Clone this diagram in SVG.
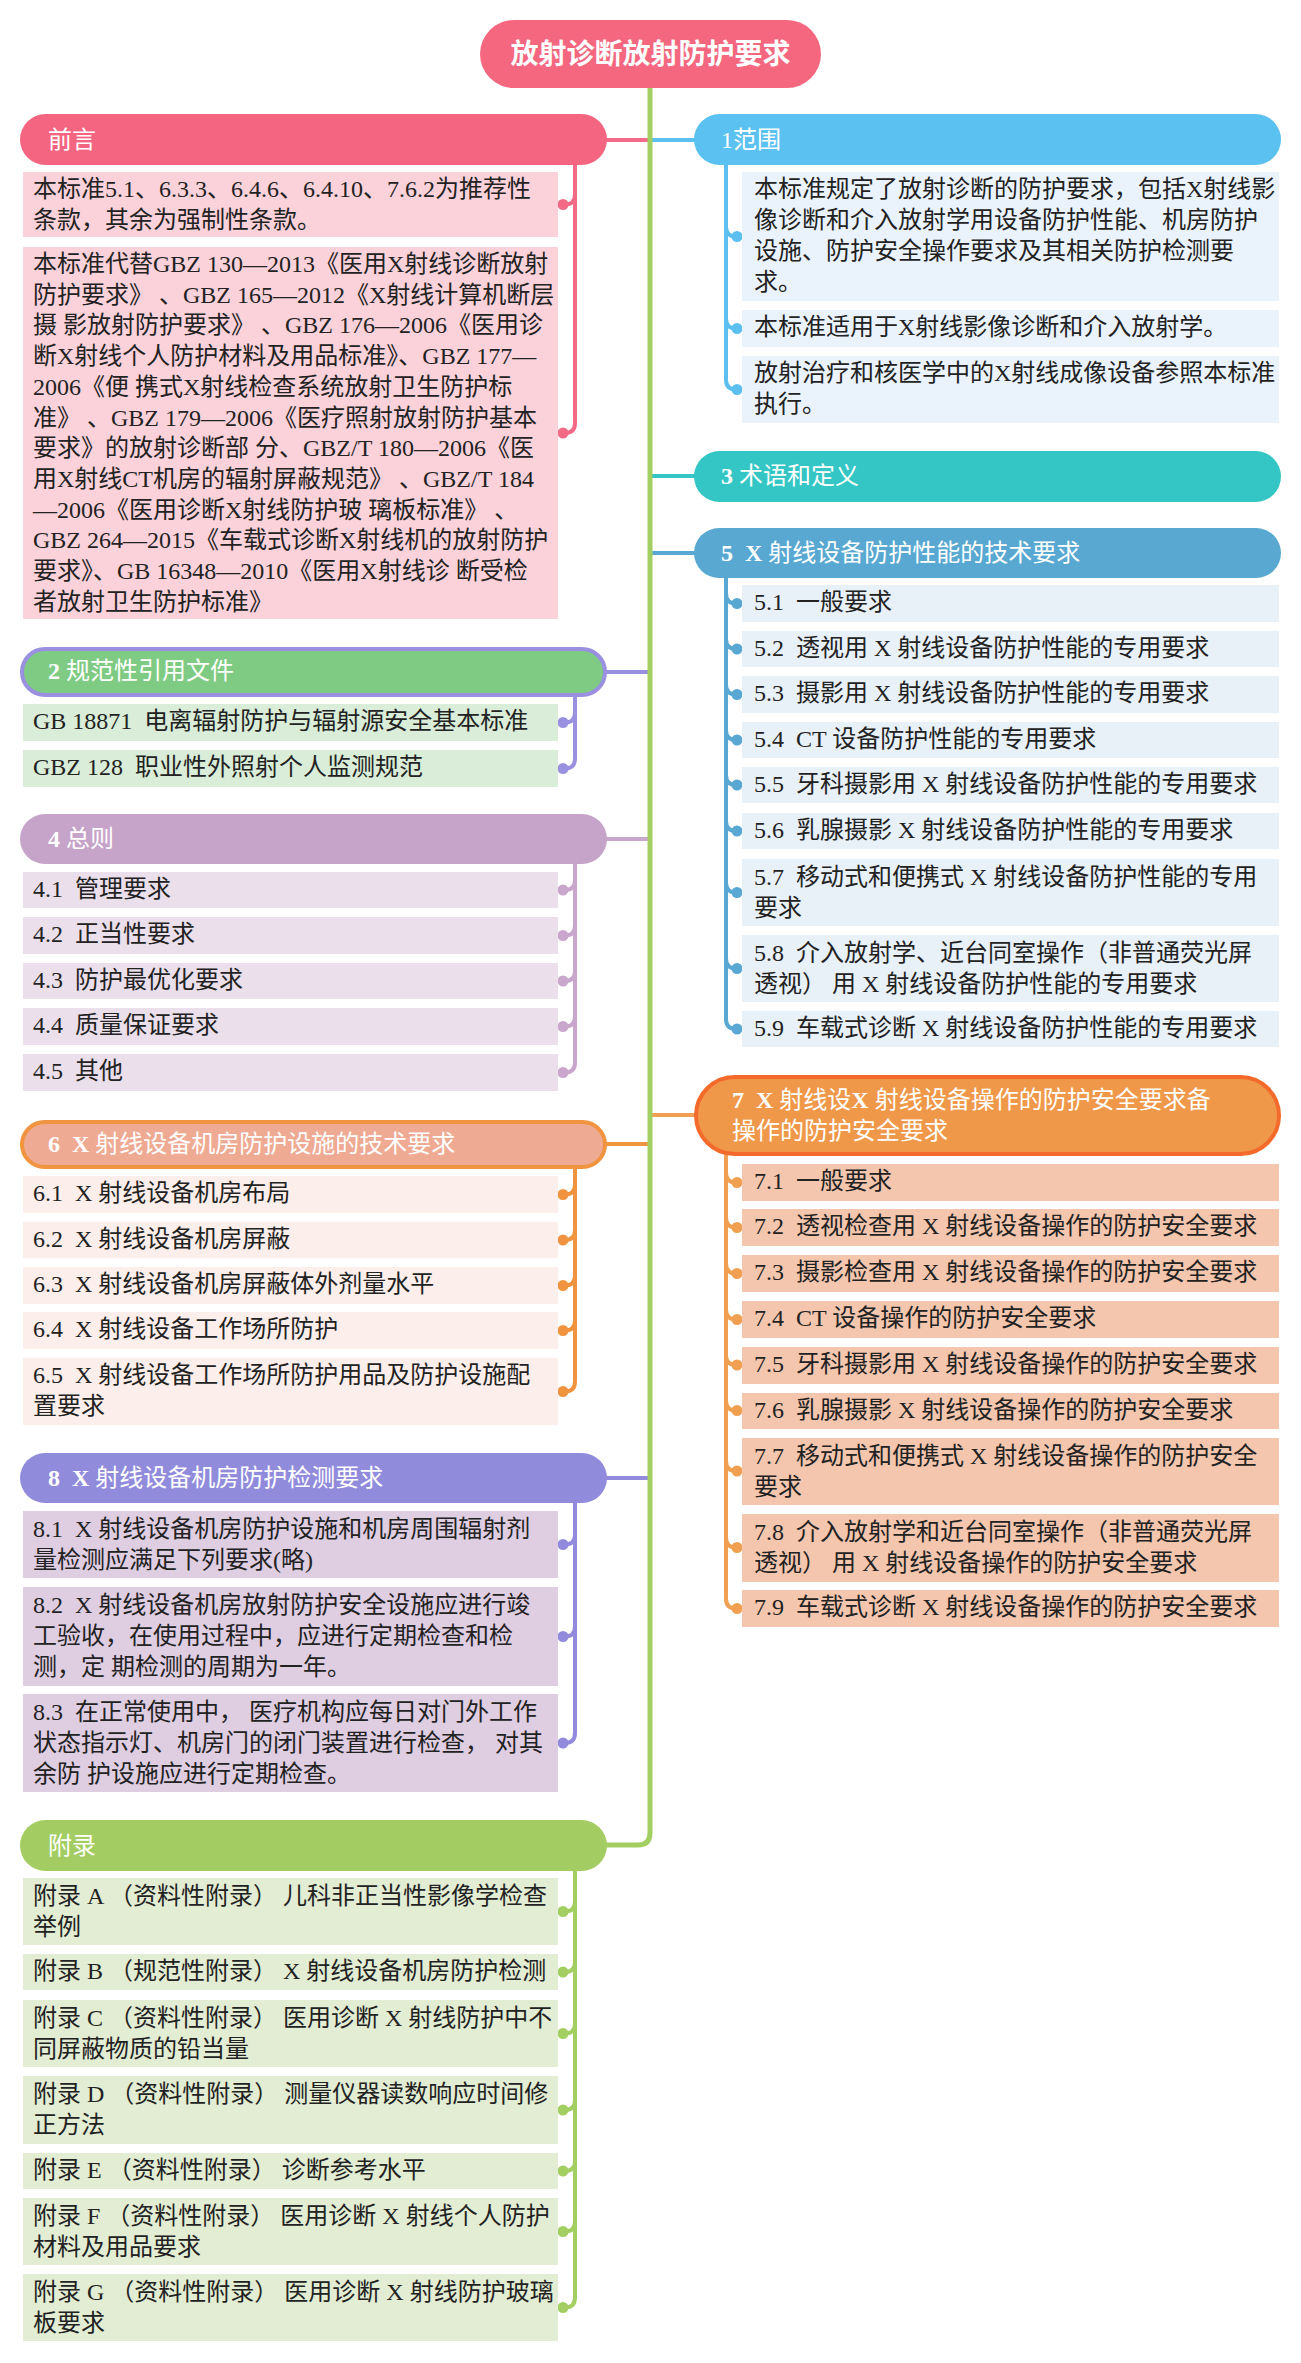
<svg xmlns="http://www.w3.org/2000/svg" width="1301" height="2363" viewBox="0 0 1301 2363">
<style>
.t{font-family:"Liberation Serif","Noto Sans CJK SC",serif;font-size:24px;fill:#222}
.h{font-family:"Liberation Serif","Noto Sans CJK SC",serif;font-size:24px;fill:#fff}
.b{font-weight:bold}
.c{fill:none;stroke-width:4;stroke-linecap:round}
.pk{fill:#FCD2DA}.lb{fill:#EAF3FC}.gn{fill:#D9EDD8}.lv{fill:#EADFEA}.bl{fill:#E8F0F8}.or{fill:#FCEEEA}.o2{fill:#F5C6AE}.pu{fill:#DFCDE2}.lg{fill:#E2EDD3}
</style>
<rect width="1301" height="2363" fill="#fff"/>
<g id="connectors">
<path class="c" stroke="#F26A86" d="M607 140H650M575 165V194.5Q575 204.5 565 204.5M575 165V423Q575 433 565 433"/>
<path class="c" stroke="#5BC0F0" d="M650 140H694M726 165V226.5Q726 236.5 736 236.5M726 165V318.5Q726 328.5 736 328.5M726 165V379.5Q726 389.5 736 389.5"/>
<path class="c" stroke="#9A90E0" d="M607 672H650M575 696V712.5Q575 722.5 565 722.5M575 696V758.5Q575 768.5 565 768.5"/>
<path class="c" stroke="#34C6C4" d="M650 476H694"/>
<path class="c" stroke="#C9A6CB" d="M607 839H650M575 864V880Q575 890 565 890M575 864V925.5Q575 935.5 565 935.5M575 864V971Q575 981 565 981M575 864V1016.5Q575 1026.5 565 1026.5M575 864V1062.5Q575 1072.5 565 1072.5"/>
<path class="c" stroke="#58A8D3" d="M650 553H694M726 578V593.5Q726 603.5 736 603.5M726 578V639Q726 649 736 649M726 578V684.5Q726 694.5 736 694.5M726 578V730Q726 740 736 740M726 578V775Q726 785 736 785M726 578V821Q726 831 736 831M726 578V882.5Q726 892.5 736 892.5M726 578V958.5Q726 968.5 736 968.5M726 578V1019Q726 1029 736 1029"/>
<path class="c" stroke="#F0943F" d="M607 1144H650M575 1168V1184.5Q575 1194.5 565 1194.5M575 1168V1230Q575 1240 565 1240M575 1168V1275.5Q575 1285.5 565 1285.5M575 1168V1320.5Q575 1330.5 565 1330.5M575 1168V1381.5Q575 1391.5 565 1391.5"/>
<path class="c" stroke="#F0A050" d="M650 1115H694M726 1156V1172.5Q726 1182.5 736 1182.5M726 1156V1217.5Q726 1227.5 736 1227.5M726 1156V1263.5Q726 1273.5 736 1273.5M726 1156V1309.5Q726 1319.5 736 1319.5M726 1156V1355Q726 1365 736 1365M726 1156V1400.5Q726 1410.5 736 1410.5M726 1156V1461Q726 1471 736 1471M726 1156V1537.5Q726 1547.5 736 1547.5M726 1156V1598.5Q726 1608.5 736 1608.5"/>
<path class="c" stroke="#928BDD" d="M607 1478H650M575 1503V1534.5Q575 1544.5 565 1544.5M575 1503V1626.5Q575 1636.5 565 1636.5M575 1503V1733Q575 1743 565 1743"/>
<path class="c" stroke="#A3CE62" d="M575 1871V1901.5Q575 1911.5 565 1911.5M575 1871V1962Q575 1972 565 1972M575 1871V2023.5Q575 2033.5 565 2033.5M575 1871V2100Q575 2110 565 2110M575 1871V2161Q575 2171 565 2171M575 1871V2221.5Q575 2231.5 565 2231.5M575 1871V2297.5Q575 2307.5 565 2307.5"/>
<path fill="none" stroke="#A3CE62" stroke-width="5" stroke-linecap="round" d="M650 88V1833Q650 1845 638 1845H607"/>
<g fill="#F26A86"><circle cx="563" cy="204.5" r="5.5"/><circle cx="563" cy="433" r="5.5"/></g>
<g fill="#5BC0F0"><circle cx="737" cy="236.5" r="5.5"/><circle cx="737" cy="328.5" r="5.5"/><circle cx="737" cy="389.5" r="5.5"/></g>
<g fill="#9A90E0"><circle cx="563" cy="722.5" r="5.5"/><circle cx="563" cy="768.5" r="5.5"/></g>
<g fill="#C9A6CB"><circle cx="563" cy="890" r="5.5"/><circle cx="563" cy="935.5" r="5.5"/><circle cx="563" cy="981" r="5.5"/><circle cx="563" cy="1026.5" r="5.5"/><circle cx="563" cy="1072.5" r="5.5"/></g>
<g fill="#58A8D3"><circle cx="737" cy="603.5" r="5.5"/><circle cx="737" cy="649" r="5.5"/><circle cx="737" cy="694.5" r="5.5"/><circle cx="737" cy="740" r="5.5"/><circle cx="737" cy="785" r="5.5"/><circle cx="737" cy="831" r="5.5"/><circle cx="737" cy="892.5" r="5.5"/><circle cx="737" cy="968.5" r="5.5"/><circle cx="737" cy="1029" r="5.5"/></g>
<g fill="#F0943F"><circle cx="563" cy="1194.5" r="5.5"/><circle cx="563" cy="1240" r="5.5"/><circle cx="563" cy="1285.5" r="5.5"/><circle cx="563" cy="1330.5" r="5.5"/><circle cx="563" cy="1391.5" r="5.5"/></g>
<g fill="#F0A050"><circle cx="737" cy="1182.5" r="5.5"/><circle cx="737" cy="1227.5" r="5.5"/><circle cx="737" cy="1273.5" r="5.5"/><circle cx="737" cy="1319.5" r="5.5"/><circle cx="737" cy="1365" r="5.5"/><circle cx="737" cy="1410.5" r="5.5"/><circle cx="737" cy="1471" r="5.5"/><circle cx="737" cy="1547.5" r="5.5"/><circle cx="737" cy="1608.5" r="5.5"/></g>
<g fill="#928BDD"><circle cx="563" cy="1544.5" r="5.5"/><circle cx="563" cy="1636.5" r="5.5"/><circle cx="563" cy="1743" r="5.5"/></g>
<g fill="#A3CE62"><circle cx="563" cy="1911.5" r="5.5"/><circle cx="563" cy="1972" r="5.5"/><circle cx="563" cy="2033.5" r="5.5"/><circle cx="563" cy="2110" r="5.5"/><circle cx="563" cy="2171" r="5.5"/><circle cx="563" cy="2231.5" r="5.5"/><circle cx="563" cy="2307.5" r="5.5"/></g>
</g>
<g id="root">
<rect x="480" y="20" width="341" height="68" rx="34" fill="#F4677F"/>
<text x="650.5" y="64" text-anchor="middle" font-family="'Noto Sans CJK SC',sans-serif" font-weight="bold" font-size="28" fill="#fff">放射诊断放射防护要求</text>
</g>
<g id="n-qianyan">
<rect x="20" y="114" width="587" height="51" rx="25.5" fill="#F46582"/>
<text class="h" x="48" y="148">前言</text>
</g>
<g id="n-qianyan-1">
<rect class="pk" x="23" y="172" width="535" height="65"/>
<text class="t" x="33" y="197">本标准5.1、6.3.3、6.4.6、6.4.10、7.6.2为推荐性</text>
<text class="t" x="33" y="228">条款，其余为强制性条款。</text>
</g>
<g id="n-qianyan-2">
<rect class="pk" x="23" y="247" width="535" height="372"/>
<text class="t" x="33" y="272">本标准代替GBZ 130—2013《医用X射线诊断放射</text>
<text class="t" x="33" y="302.7">防护要求》 、GBZ 165—2012《X射线计算机断层</text>
<text class="t" x="33" y="333.4">摄 影放射防护要求》 、GBZ 176—2006《医用诊</text>
<text class="t" x="33" y="364.1">断X射线个人防护材料及用品标准》、GBZ 177—</text>
<text class="t" x="33" y="394.8">2006《便 携式X射线检查系统放射卫生防护标</text>
<text class="t" x="33" y="425.5">准》 、GBZ 179—2006《医疗照射放射防护基本</text>
<text class="t" x="33" y="456.2">要求》的放射诊断部 分、GBZ/T 180—2006《医</text>
<text class="t" x="33" y="486.9">用X射线CT机房的辐射屏蔽规范》 、GBZ/T 184</text>
<text class="t" x="33" y="517.6">—2006《医用诊断X射线防护玻 璃板标准》 、</text>
<text class="t" x="33" y="548.3">GBZ 264—2015《车载式诊断X射线机的放射防护</text>
<text class="t" x="33" y="579">要求》、GB 16348—2010《医用X射线诊 断受检</text>
<text class="t" x="33" y="609.7">者放射卫生防护标准》</text>
</g>
<g id="n-2">
<rect x="22" y="649" width="583" height="46" rx="23" fill="#7FCB84" stroke="#9A90E0" stroke-width="4"/>
<text class="h" x="48" y="679"><tspan class="b">2</tspan> 规范性引用文件</text>
</g>
<g id="n-2-1">
<rect class="gn" x="23" y="704" width="535" height="37"/>
<text class="t" x="33" y="729">GB 18871&#160;&#160;电离辐射防护与辐射源安全基本标准</text>
</g>
<g id="n-2-2">
<rect class="gn" x="23" y="750" width="535" height="37"/>
<text class="t" x="33" y="775">GBZ 128&#160;&#160;职业性外照射个人监测规范</text>
</g>
<g id="n-4">
<rect x="20" y="814" width="587" height="50" rx="25" fill="#C6A3C8"/>
<text class="h" x="48" y="847"><tspan class="b">4</tspan> 总则</text>
</g>
<g id="n-4-1"><rect class="lv" x="23" y="872" width="535" height="36"/><text class="t" x="33" y="897">4.1&#160;&#160;管理要求</text></g>
<g id="n-4-2"><rect class="lv" x="23" y="917" width="535" height="37"/><text class="t" x="33" y="942">4.2&#160;&#160;正当性要求</text></g>
<g id="n-4-3"><rect class="lv" x="23" y="963" width="535" height="36"/><text class="t" x="33" y="988">4.3&#160;&#160;防护最优化要求</text></g>
<g id="n-4-4"><rect class="lv" x="23" y="1008" width="535" height="37"/><text class="t" x="33" y="1033">4.4&#160;&#160;质量保证要求</text></g>
<g id="n-4-5"><rect class="lv" x="23" y="1054" width="535" height="37"/><text class="t" x="33" y="1079">4.5&#160;&#160;其他</text></g>
<g id="n-6">
<rect x="22" y="1122" width="583" height="45" rx="22.5" fill="#EFAA93" stroke="#F0943F" stroke-width="4"/>
<text class="h" x="48" y="1152"><tspan class="b">6&#160;&#160;X</tspan> 射线设备机房防护设施的技术要求</text>
</g>
<g id="n-6-1"><rect class="or" x="23" y="1176" width="535" height="37"/><text class="t" x="33" y="1201">6.1&#160;&#160;X 射线设备机房布局</text></g>
<g id="n-6-2"><rect class="or" x="23" y="1222" width="535" height="36"/><text class="t" x="33" y="1247">6.2&#160;&#160;X 射线设备机房屏蔽</text></g>
<g id="n-6-3"><rect class="or" x="23" y="1267" width="535" height="37"/><text class="t" x="33" y="1292">6.3&#160;&#160;X 射线设备机房屏蔽体外剂量水平</text></g>
<g id="n-6-4"><rect class="or" x="23" y="1312" width="535" height="37"/><text class="t" x="33" y="1337">6.4&#160;&#160;X 射线设备工作场所防护</text></g>
<g id="n-6-5"><rect class="or" x="23" y="1358" width="535" height="67"/><text class="t" x="33" y="1383">6.5&#160;&#160;X 射线设备工作场所防护用品及防护设施配</text><text class="t" x="33" y="1414">置要求</text></g>
<g id="n-8">
<rect x="20" y="1453" width="587" height="50" rx="25" fill="#918BDC"/>
<text class="h" x="48" y="1486"><tspan class="b">8&#160;&#160;X</tspan> 射线设备机房防护检测要求</text>
</g>
<g id="n-8-1"><rect class="pu" x="23" y="1511" width="535" height="67"/><text class="t" x="33" y="1537">8.1&#160;&#160;X 射线设备机房防护设施和机房周围辐射剂</text><text class="t" x="33" y="1568">量检测应满足下列要求(略)</text></g>
<g id="n-8-2"><rect class="pu" x="23" y="1587" width="535" height="99"/><text class="t" x="33" y="1613">8.2&#160;&#160;X 射线设备机房放射防护安全设施应进行竣</text><text class="t" x="33" y="1644">工验收，在使用过程中，应进行定期检查和检</text><text class="t" x="33" y="1675">测，定 期检测的周期为一年。</text></g>
<g id="n-8-3"><rect class="pu" x="23" y="1694" width="535" height="98"/><text class="t" x="33" y="1720">8.3&#160;&#160;在正常使用中， 医疗机构应每日对门外工作</text><text class="t" x="33" y="1751">状态指示灯、机房门的闭门装置进行检查， 对其</text><text class="t" x="33" y="1782">余防 护设施应进行定期检查。</text></g>
<g id="n-fulu">
<rect x="20" y="1820" width="587" height="51" rx="25.5" fill="#A3CD62"/>
<text class="h" x="48" y="1854">附录</text>
</g>
<g id="n-fulu-a"><rect class="lg" x="23" y="1878" width="535" height="67"/><text class="t" x="33" y="1904">附录 A （资料性附录） 儿科非正当性影像学检查</text><text class="t" x="33" y="1935">举例</text></g>
<g id="n-fulu-b"><rect class="lg" x="23" y="1954" width="535" height="36"/><text class="t" x="33" y="1979">附录 B （规范性附录） X 射线设备机房防护检测</text></g>
<g id="n-fulu-c"><rect class="lg" x="23" y="2000" width="535" height="67"/><text class="t" x="33" y="2026">附录 C （资料性附录） 医用诊断 X 射线防护中不</text><text class="t" x="33" y="2057">同屏蔽物质的铅当量</text></g>
<g id="n-fulu-d"><rect class="lg" x="23" y="2076" width="535" height="68"/><text class="t" x="33" y="2102">附录 D （资料性附录） 测量仪器读数响应时间修</text><text class="t" x="33" y="2133">正方法</text></g>
<g id="n-fulu-e"><rect class="lg" x="23" y="2153" width="535" height="36"/><text class="t" x="33" y="2178">附录 E （资料性附录） 诊断参考水平</text></g>
<g id="n-fulu-f"><rect class="lg" x="23" y="2198" width="535" height="67"/><text class="t" x="33" y="2224">附录 F （资料性附录） 医用诊断 X 射线个人防护</text><text class="t" x="33" y="2255">材料及用品要求</text></g>
<g id="n-fulu-g"><rect class="lg" x="23" y="2274" width="535" height="67"/><text class="t" x="33" y="2300">附录 G （资料性附录） 医用诊断 X 射线防护玻璃</text><text class="t" x="33" y="2331">板要求</text></g>
<g id="n-1">
<rect x="694" y="114" width="587" height="51" rx="25.5" fill="#5BC1F1"/>
<text class="h" x="721" y="148">1范围</text>
</g>
<g id="n-1-1"><rect class="lb" x="742" y="172" width="537" height="129"/><text class="t" x="754" y="197">本标准规定了放射诊断的防护要求，包括X射线影</text><text class="t" x="754" y="228">像诊断和介入放射学用设备防护性能、机房防护</text><text class="t" x="754" y="259">设施、防护安全操作要求及其相关防护检测要</text><text class="t" x="754" y="290">求。</text></g>
<g id="n-1-2"><rect class="lb" x="742" y="310" width="537" height="37"/><text class="t" x="754" y="335">本标准适用于X射线影像诊断和介入放射学。</text></g>
<g id="n-1-3"><rect class="lb" x="742" y="356" width="537" height="67"/><text class="t" x="754" y="381">放射治疗和核医学中的X射线成像设备参照本标准</text><text class="t" x="754" y="412">执行。</text></g>
<g id="n-3">
<rect x="694" y="451" width="587" height="51" rx="25.5" fill="#34C6C4"/>
<text class="h" x="721" y="484"><tspan class="b">3</tspan> 术语和定义</text>
</g>
<g id="n-5">
<rect x="694" y="528" width="587" height="50" rx="25" fill="#58A8D2"/>
<text class="h" x="721" y="561"><tspan class="b">5&#160;&#160;X</tspan> 射线设备防护性能的技术要求</text>
</g>
<g id="n-5-1"><rect class="bl" x="742" y="585" width="537" height="37"/><text class="t" x="754" y="610">5.1&#160;&#160;一般要求</text></g>
<g id="n-5-2"><rect class="bl" x="742" y="631" width="537" height="36"/><text class="t" x="754" y="656">5.2&#160;&#160;透视用 X 射线设备防护性能的专用要求</text></g>
<g id="n-5-3"><rect class="bl" x="742" y="676" width="537" height="37"/><text class="t" x="754" y="701">5.3&#160;&#160;摄影用 X 射线设备防护性能的专用要求</text></g>
<g id="n-5-4"><rect class="bl" x="742" y="722" width="537" height="36"/><text class="t" x="754" y="747">5.4&#160;&#160;CT 设备防护性能的专用要求</text></g>
<g id="n-5-5"><rect class="bl" x="742" y="767" width="537" height="36"/><text class="t" x="754" y="792">5.5&#160;&#160;牙科摄影用 X 射线设备防护性能的专用要求</text></g>
<g id="n-5-6"><rect class="bl" x="742" y="813" width="537" height="36"/><text class="t" x="754" y="838">5.6&#160;&#160;乳腺摄影 X 射线设备防护性能的专用要求</text></g>
<g id="n-5-7"><rect class="bl" x="742" y="859" width="537" height="67"/><text class="t" x="754" y="885">5.7&#160;&#160;移动式和便携式 X 射线设备防护性能的专用</text><text class="t" x="754" y="916">要求</text></g>
<g id="n-5-8"><rect class="bl" x="742" y="935" width="537" height="67"/><text class="t" x="754" y="961">5.8&#160;&#160;介入放射学、近台同室操作（非普通荧光屏</text><text class="t" x="754" y="992">透视） 用 X 射线设备防护性能的专用要求</text></g>
<g id="n-5-9"><rect class="bl" x="742" y="1011" width="537" height="36"/><text class="t" x="754" y="1036">5.9&#160;&#160;车载式诊断 X 射线设备防护性能的专用要求</text></g>
<g id="n-7">
<rect x="696" y="1077" width="583" height="77" rx="38.5" fill="#F0984A" stroke="#F46A2A" stroke-width="4"/>
<text class="h" x="732" y="1108"><tspan class="b">7&#160;&#160;X</tspan> 射线设<tspan class="b">X</tspan> 射线设备操作的防护安全要求备</text>
<text class="h" x="732" y="1139">操作的防护安全要求</text>
</g>
<g id="n-7-1"><rect class="o2" x="742" y="1164" width="537" height="37"/><text class="t" x="754" y="1189">7.1&#160;&#160;一般要求</text></g>
<g id="n-7-2"><rect class="o2" x="742" y="1209" width="537" height="37"/><text class="t" x="754" y="1234">7.2&#160;&#160;透视检查用 X 射线设备操作的防护安全要求</text></g>
<g id="n-7-3"><rect class="o2" x="742" y="1255" width="537" height="37"/><text class="t" x="754" y="1280">7.3&#160;&#160;摄影检查用 X 射线设备操作的防护安全要求</text></g>
<g id="n-7-4"><rect class="o2" x="742" y="1301" width="537" height="37"/><text class="t" x="754" y="1326">7.4&#160;&#160;CT 设备操作的防护安全要求</text></g>
<g id="n-7-5"><rect class="o2" x="742" y="1347" width="537" height="37"/><text class="t" x="754" y="1372">7.5&#160;&#160;牙科摄影用 X 射线设备操作的防护安全要求</text></g>
<g id="n-7-6"><rect class="o2" x="742" y="1393" width="537" height="36"/><text class="t" x="754" y="1418">7.6&#160;&#160;乳腺摄影 X 射线设备操作的防护安全要求</text></g>
<g id="n-7-7"><rect class="o2" x="742" y="1438" width="537" height="67"/><text class="t" x="754" y="1464">7.7&#160;&#160;移动式和便携式 X 射线设备操作的防护安全</text><text class="t" x="754" y="1495">要求</text></g>
<g id="n-7-8"><rect class="o2" x="742" y="1514" width="537" height="68"/><text class="t" x="754" y="1540">7.8&#160;&#160;介入放射学和近台同室操作（非普通荧光屏</text><text class="t" x="754" y="1571">透视） 用 X 射线设备操作的防护安全要求</text></g>
<g id="n-7-9"><rect class="o2" x="742" y="1590" width="537" height="37"/><text class="t" x="754" y="1615">7.9&#160;&#160;车载式诊断 X 射线设备操作的防护安全要求</text></g>
</svg>
